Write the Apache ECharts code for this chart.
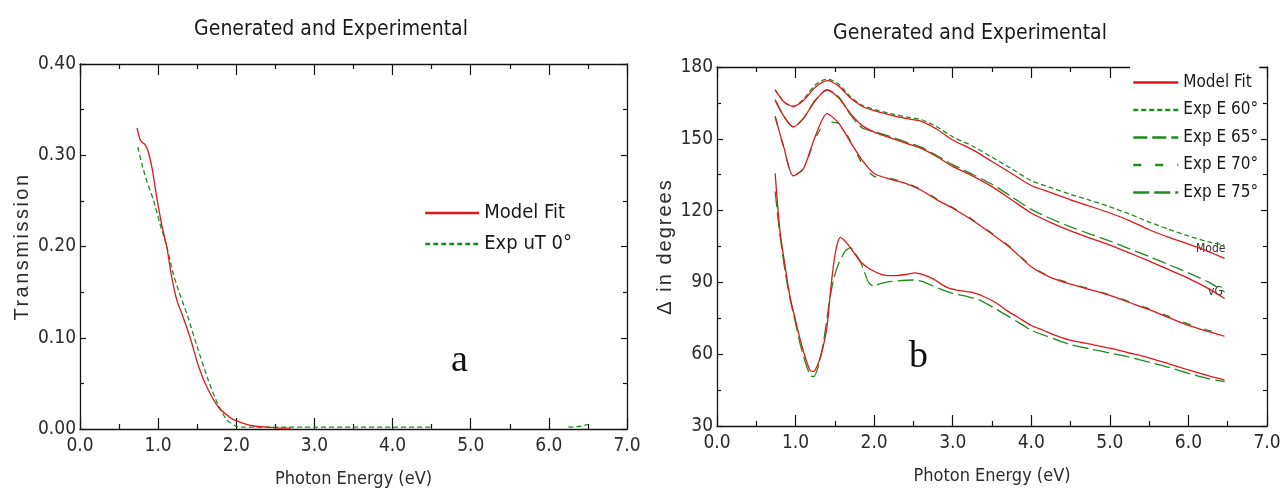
<!DOCTYPE html>
<html><head><meta charset="utf-8">
<script src="https://cdn.jsdelivr.net/npm/echarts@6/dist/echarts.min.js"></script>
<style>html,body{margin:0;padding:0;background:#fff}#c{width:1281px;height:489px}</style>
</head><body><div id="c"></div>
<script>
// ---------- Panel a : Transmission ----------
const eFitT = [0.73,0.77,0.80,0.83,0.87,0.92,0.98,1.05,1.11,1.17,1.24,1.31,1.41,1.52,1.64,1.78,1.90,1.97,2.10,2.25,2.40,2.55,2.70];
const fitT  = [0.330,0.317,0.314,0.312,0.305,0.287,0.255,0.222,0.200,0.168,0.141,0.125,0.100,0.068,0.043,0.023,0.014,0.010,0.006,0.003,0.002,0.001,0.001];
const eExpT = [0.74,0.79,0.85,0.94,1.02,1.11,1.19,1.26,1.38,1.50,1.64,1.76,1.88,2.00,2.10,2.25,2.50,3.00,3.50,4.00,4.50,5.00,6.25,6.40,6.50];
const expT  = [0.309,0.291,0.273,0.251,0.226,0.200,0.171,0.152,0.123,0.090,0.054,0.028,0.010,0.003,0.002,0.002,0.002,0.002,0.002,0.002,0.002,null,0.002,0.003,0.005];

// ---------- Panel b : Delta (degrees) ----------
const eB    = [0.74,0.85,0.97,1.10,1.25,1.40,1.55,1.70,1.85,2.00,2.20,2.40,2.60,2.80,3.00,3.25,3.50,3.75,4.00,4.25,4.50,4.75,5.00,5.25,5.50,5.75,6.00,6.25,6.46];
const fit60 = [170.4,165.5,163.5,166,171.5,174.3,172,167,163.5,161.8,160,158.5,157.3,154,149.5,145.5,140.5,135.5,130.5,127.5,124.5,121.8,119,115.8,112,108.8,106,103,100];
const exp60 = [170.5,165.5,163.5,166.5,172.5,175,172.8,167.5,164,162.3,160.6,159.2,158,155,150.8,147,142.3,137.5,132.5,129.6,126.8,124.3,121.6,118.6,115.2,112.2,109.4,107,105.5];
const fit65 = [166.4,159.5,155,158.5,166,170.3,167,160.5,155.5,152.8,150.5,148.2,146,142.5,138.5,134.5,130,124.5,119,115,111.5,108.5,105.6,102.3,98.9,95.3,91.7,87.5,83.3];
const exp65 = [166,159.3,155,158.5,166,170.5,167.5,160,154.5,153,151,148.7,146.5,143,139.2,135.2,131,125.8,120.5,116.6,113.2,110.2,107.3,104,100.8,97.4,94,90.2,86];
const fit70 = [159.5,146.5,134.5,137.5,151,160.5,156.5,148.5,141,135.5,133.2,131.4,128.5,124.5,121,116,110.2,104,96.5,92,89.3,87,84.6,81.6,78.6,75.3,72,69.5,67.5];
const exp70 = [159,146.5,134.5,137.5,150,157,156.5,149,139.5,134.3,133.5,131.6,128.8,124.8,121.3,116.3,110.5,104.3,96.8,92.3,89.6,87.2,84.8,81.9,79,75.8,72.6,70,68.6];
const eFit75 = [0.74,0.80,0.87,0.93,1.00,1.06,1.13,1.19,1.23,1.29,1.35,1.40,1.45,1.49,1.53,1.57,1.65,1.73,1.83,1.95,2.10,2.25,2.40,2.52,2.62,2.75,2.92,3.05,3.25,3.40,3.55,3.70,3.85,4.00,4.15,4.30,4.48,4.75,5.00,5.25,5.52,5.75,6.00,6.25,6.46];
const fit75  = [135.6,112,96,84,74,66,58,53,52.8,56.3,63,71.5,88,99,106,108.8,106.5,103,98.5,95.5,93.3,92.8,93.3,94,93.2,91.5,88,86.8,85.8,84,81.5,78,75,72,70,68,66,64.2,62.5,60.5,58.3,56,53.4,51,49.2];
const eExp75 = [0.74,0.80,0.87,0.93,1.00,1.06,1.13,1.19,1.23,1.29,1.35,1.40,1.44,1.49,1.55,1.63,1.70,1.76,1.82,1.88,1.93,1.99,2.08,2.20,2.50,2.62,2.75,3.00,3.20,3.35,3.50,3.70,3.85,4.00,4.20,4.48,4.75,5.00,5.25,5.52,5.75,6.00,6.25,6.46];
const exp75  = [128,110,94,83,73,64,56,51,50.6,55,64,75,84,92,98,103,104.5,102,99,94,90,88.5,89.5,90.3,91,90.3,88.5,85.4,84,82.5,79.8,76,73,70,67.5,64.2,62.2,60.5,58.8,56.5,54.5,52,49.8,48.5];

const legendA = ['Model Fit', 'Exp uT 0°'];
const legendB = ['Model Fit', 'Exp E 60°', 'Exp E 65°', 'Exp E 70°', 'Exp E 75°'];

// letter-spaced rendering for the two rotated axis titles (visual only)
const SPACED = { 'Transmission': '2.5px', 'Δ in degrees': '2px' };
const _fillText = CanvasRenderingContext2D.prototype.fillText;
CanvasRenderingContext2D.prototype.fillText = function (t, x, y, m) {
  if (SPACED[t] && 'letterSpacing' in this) {
    const f = this.font;
    this.letterSpacing = SPACED[t];
    this.font = '10px serif'; this.font = f;
    _fillText.call(this, t, x, y);
    this.letterSpacing = '0px';
    this.font = '10px serif'; this.font = f;
    return;
  }
  return m === undefined ? _fillText.call(this, t, x, y) : _fillText.call(this, t, x, y, m);
};

const NARROW = "'Liberation Sans Narrow','Arial Narrow','DejaVu Sans Condensed','Liberation Sans',sans-serif";
const RED = '#e3161b', GREEN = '#1e8c1e', INK = '#141414', LBL = '#2b2b2b';
const zip = (xs, ys) => xs.map((x, i) => [x, ys[i]]);

function xAx(grid, pos, show) {
  return {
    type: 'value', gridIndex: grid, position: pos, min: 0, max: 7, interval: 1,
    axisLine: { show: true, onZero: false, lineStyle: { color: INK, width: 1.3 } },
    axisTick: { show: true, inside: true, length: 11, lineStyle: { color: INK, width: 1.2 } },
    minorTick: { show: true, splitNumber: 2, length: 5, lineStyle: { color: INK, width: 1.2 } },
    splitLine: { show: false }, minorSplitLine: { show: false },
    axisLabel: { show: show, margin: 8, fontSize: 19, fontFamily: NARROW, color: LBL,
      formatter: v => v.toFixed(1) },
    name: show ? 'Photon Energy (eV)' : '', nameLocation: 'middle', nameGap: 41,
    nameTextStyle: { fontSize: 18, fontFamily: NARROW, color: LBL }
  };
}
function yAx(grid, pos, show, min, max, interval, dec, name, gap) {
  return {
    type: 'value', gridIndex: grid, position: pos, min: min, max: max, interval: interval,
    axisLine: { show: true, onZero: false, lineStyle: { color: INK, width: 1.3 } },
    axisTick: { show: true, inside: true, length: 6, lineStyle: { color: INK, width: 1.2 } },
    minorTick: { show: true, splitNumber: 2, length: 4, lineStyle: { color: INK, width: 1.2 } },
    splitLine: { show: false }, minorSplitLine: { show: false },
    axisLabel: { show: show, margin: 4, fontSize: 19, fontFamily: NARROW, color: LBL,
      formatter: v => v.toFixed(dec) },
    name: show ? name : '', nameLocation: 'middle', nameGap: gap, nameRotate: 90,
    nameTextStyle: { fontSize: 20, fontFamily: "'Liberation Sans',Arial,sans-serif", color: LBL }
  };
}
function line(name, data, xi, yi, color, dash, w) {
  return {
    type: 'line', name: name, data: data, xAxisIndex: xi, yAxisIndex: yi,
    showSymbol: false, symbol: 'none', smooth: 0.25, connectNulls: false, silent: true,
    lineStyle: { color: color, width: w || 1.3, type: dash || 'solid' },
    itemStyle: { color: color }
  };
}
const hiddenIcon = { color: 'rgba(0,0,0,0)', borderColor: 'rgba(0,0,0,0)', borderWidth: 0 };

const chart = echarts.init(document.getElementById('c'), null, { renderer: 'canvas' });
chart.setOption({
  animation: false,
  backgroundColor: '#fff',
  title: [
    { text: 'Generated and Experimental', left: 326, top: 14, textAlign: 'center',
      textStyle: { fontSize: 21, fontWeight: 'normal', fontFamily: NARROW, color: '#1a1a1a' } },
    { text: 'Generated and Experimental', left: 965, top: 18, textAlign: 'center',
      textStyle: { fontSize: 21, fontWeight: 'normal', fontFamily: NARROW, color: '#1a1a1a' } }
  ],
  grid: [
    { left: 80, top: 64, width: 547, height: 365, outerBoundsMode: 'none', containLabel: false },
    { left: 717, top: 67, width: 550, height: 359, outerBoundsMode: 'none', containLabel: false }
  ],
  xAxis: [ xAx(0, 'bottom', true), xAx(0, 'top', false), xAx(1, 'bottom', true), xAx(1, 'top', false) ],
  yAxis: [
    yAx(0, 'left', true, 0, 0.4, 0.1, 2, 'Transmission', 48),
    yAx(0, 'right', false, 0, 0.4, 0.1, 2, '', 0),
    yAx(1, 'left', true, 30, 180, 30, 0, 'Δ in degrees', 42),
    yAx(1, 'right', false, 30, 180, 30, 0, '', 0)
  ],
  legend: [
    { data: legendA, orient: 'vertical', left: 424, top: 203, itemGap: 11, itemWidth: 54, itemHeight: 14,
      padding: 0, selectedMode: false,
      itemStyle: hiddenIcon, lineStyle: { width: 2.5 },
      textStyle: { fontSize: 20, fontFamily: NARROW, color: '#1a1a1a' } },
    { data: legendB, orient: 'vertical', left: 1130, top: 66, itemGap: 10.5, itemWidth: 45, itemHeight: 14,
      padding: [8, 1, 4, 2], backgroundColor: '#fff', selectedMode: false,
      itemStyle: hiddenIcon, lineStyle: { width: 2.5 },
      textStyle: { fontSize: 17, fontFamily: NARROW, color: '#1a1a1a' } }
  ],
  series: [
    line('Exp uT 0°', zip(eExpT, expT), 0, 0, GREEN, [5, 3]),
    line('Model Fit', zip(eFitT, fitT), 0, 0, RED, 'solid'),

    line('Exp E 60°', zip(eB, exp60), 2, 2, GREEN, [5, 3]),
    line('Exp E 65°', zip(eB, exp65), 2, 2, GREEN, [14, 5]),
    line('Exp E 70°', zip(eB, exp70), 2, 2, GREEN, [8, 14]),
    line('Exp E 75°', zip(eExp75, exp75), 2, 2, GREEN, [16, 5]),
    line('Model Fit', zip(eB, fit60), 2, 2, RED, 'solid'),
    line('Model Fit', zip(eB, fit65), 2, 2, RED, 'solid'),
    line('Model Fit', zip(eB, fit70), 2, 2, RED, 'solid'),
    line('Model Fit', zip(eFit75, fit75), 2, 2, RED, 'solid')
  ],
  graphic: [
    { type: 'text', left: 451, top: 342, style: { text: 'a', fontSize: 38, fontFamily: "'Liberation Serif','Times New Roman',serif", fill: '#111' } },
    { type: 'text', left: 909, top: 338, style: { text: 'b', fontSize: 38, fontFamily: "'Liberation Serif','Times New Roman',serif", fill: '#111' } },
    { type: 'text', left: 1196, top: 243, style: { text: 'Mode', fontSize: 12, fontFamily: NARROW, fill: '#333' } },
    { type: 'text', left: 1208, top: 286, style: { text: 'vG', fontSize: 12, fontFamily: NARROW, fill: '#333' } }
  ]
});
</script></body></html>
